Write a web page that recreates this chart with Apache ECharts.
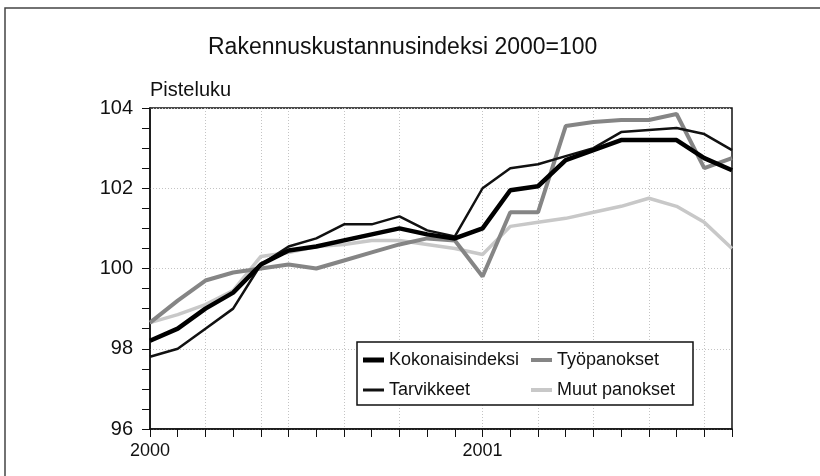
<!DOCTYPE html>
<html>
<head>
<meta charset="utf-8">
<title>Rakennuskustannusindeksi</title>
<script src="https://cdn.jsdelivr.net/npm/echarts@6/dist/echarts.min.js"></script>
<style>
  html, body { margin: 0; padding: 0; background: #ffffff; }
  #chart { width: 820px; height: 476px; }
</style>
</head>
<body>
<div id="chart"></div>
<script>
// kuukaudet 1/2000 - 10/2001
const months = [
  '2000-01', '2000-02', '2000-03', '2000-04', '2000-05', '2000-06',
  '2000-07', '2000-08', '2000-09', '2000-10', '2000-11', '2000-12',
  '2001-01', '2001-02', '2001-03', '2001-04', '2001-05', '2001-06',
  '2001-07', '2001-08', '2001-09', '2001-10'
]

// sarjat (pisteluku)
const kokonaisindeksi = [98.2, 98.5, 99.0, 99.4, 100.1, 100.45, 100.55, 100.7, 100.85, 101.0, 100.85, 100.75,
  101.0, 101.95, 102.05, 102.7, 102.95, 103.2, 103.2, 103.2, 102.75, 102.45]
const tarvikkeet = [97.8, 98.0, 98.5, 99.0, 100.1, 100.55, 100.75, 101.1, 101.1, 101.3, 100.95, 100.8,
  102.0, 102.5, 102.6, 102.8, 103.0, 103.4, 103.45, 103.5, 103.35, 102.95]
const tyopanokset = [98.65, 99.2, 99.7, 99.9, 100.0, 100.1, 100.0, 100.2, 100.4, 100.6, 100.75, 100.7,
  99.8, 101.4, 101.4, 103.55, 103.65, 103.7, 103.7, 103.85, 102.5, 102.75]
const muutPanokset = [98.65, 98.85, 99.1, 99.45, 100.3, 100.4, 100.55, 100.6, 100.7, 100.7, 100.6, 100.5,
  100.35, 101.05, 101.15, 101.25, 101.4, 101.55, 101.75, 101.55, 101.15, 100.5]

// vuosien nimiöt ja pystyviivojen paikat
const yearLabels = { 0: '2000', 12: '2001' }
const vGridIndex = [2, 4, 5, 7, 9, 12, 14, 16, 18, 20]

const FONT = "'Liberation Sans', Arial, sans-serif"

// yksi selite kerrallaan, jotta viivan paksuus näkyy
const legendItem = (name, left, top, h) => ({
  left: left,
  top: top,
  padding: 0,
  icon: 'rect',
  itemWidth: 21,
  itemHeight: h,
  z: 10,
  data: [name],
  textStyle: { fontFamily: FONT, fontSize: 18, color: '#111' }
})

const chart = echarts.init(document.getElementById('chart'))

const option = {
  backgroundColor: '#ffffff',
  animation: false,
  title: {
    text: 'Rakennuskustannusindeksi 2000=100',
    left: 203,
    top: 31,
    textStyle: { fontFamily: FONT, fontSize: 23, fontWeight: 'normal', color: '#111' }
  },
  legend: [
    legendItem('Kokonaisindeksi', 363, 351, 5),
    legendItem('Tarvikkeet', 363, 381, 3),
    legendItem('Työpanokset', 531, 351, 4),
    legendItem('Muut panokset', 531, 381, 4)
  ],
  graphic: [
    {
      type: 'rect',
      shape: { x: 5, y: 8, width: 840, height: 500 },
      style: { fill: 'none', stroke: '#444', lineWidth: 1.5 },
      silent: true
    },
    {
      type: 'rect',
      shape: { x: 357, y: 342, width: 336, height: 63 },
      style: { fill: '#ffffff', stroke: '#111', lineWidth: 1.5 },
      z: 3,
      silent: true
    }
  ],
  grid: {
    left: 150,
    right: 88,
    top: 108,
    bottom: 47,
    show: true,
    borderColor: '#111',
    borderWidth: 1.5
  },
  xAxis: {
    type: 'category',
    data: months,
    boundaryGap: false,
    axisLine: { lineStyle: { color: '#111', width: 1.5 } },
    axisTick: { interval: 0, length: 8, lineStyle: { color: '#111' } },
    axisLabel: {
      interval: 0,
      margin: 13,
      fontFamily: FONT,
      fontSize: 18,
      color: '#111',
      formatter: (v, i) => yearLabels[i] || ''
    },
    splitLine: {
      show: true,
      interval: (i) => vGridIndex.includes(i),
      lineStyle: { color: '#c4c4c4', type: [1, 2], width: 1 }
    }
  },
  yAxis: {
    type: 'value',
    min: 96,
    max: 104,
    interval: 2,
    name: 'Pisteluku',
    nameLocation: 'end',
    nameGap: 8,
    nameTextStyle: { fontFamily: FONT, fontSize: 20, color: '#111', align: 'left' },
    axisLine: { show: true, lineStyle: { color: '#111', width: 1.5 } },
    axisTick: { show: true, length: 8, lineStyle: { color: '#111' } },
    minorTick: { show: true, splitNumber: 4, length: 8, lineStyle: { color: '#111' } },
    axisLabel: { margin: 17, fontFamily: FONT, fontSize: 20, color: '#111' },
    splitLine: { show: true, lineStyle: { color: '#c4c4c4', type: [1, 2], width: 1 } }
  },
  series: [
    {
      name: 'Muut panokset',
      type: 'line',
      data: muutPanokset,
      symbol: 'none',
      lineStyle: { color: '#c8c8c8', width: 3.5 },
      itemStyle: { color: '#c8c8c8' }
    },
    {
      name: 'Työpanokset',
      type: 'line',
      data: tyopanokset,
      symbol: 'none',
      lineStyle: { color: '#858585', width: 4 },
      itemStyle: { color: '#858585' }
    },
    {
      name: 'Tarvikkeet',
      type: 'line',
      data: tarvikkeet,
      symbol: 'none',
      lineStyle: { color: '#111', width: 2.5 },
      itemStyle: { color: '#111' }
    },
    {
      name: 'Kokonaisindeksi',
      type: 'line',
      data: kokonaisindeksi,
      symbol: 'none',
      lineStyle: { color: '#000', width: 4.5 },
      itemStyle: { color: '#000' }
    }
  ]
}

chart.setOption(option)
</script>
</body>
</html>
